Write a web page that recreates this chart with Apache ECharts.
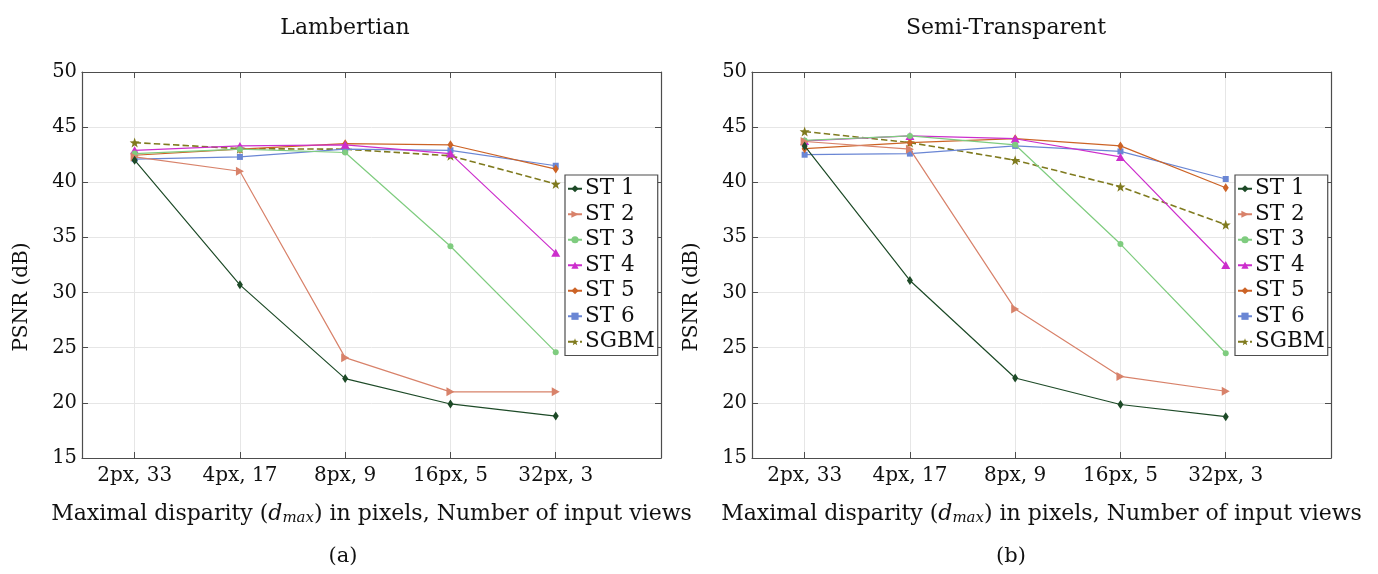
<!DOCTYPE html>
<html>
<head>
<meta charset="utf-8">
<script src="https://cdn.jsdelivr.net/npm/echarts@6/dist/echarts.min.js"></script>
<style>html,body{margin:0;padding:0;background:#fff;}#c{width:1378px;height:574px;}</style>
</head>
<body>
<div id="c"></div>
<script>
const categories = ['2px, 33', '4px, 17', '8px, 9', '16px, 5', '32px, 3'];
const seriesNames = ['ST 1', 'ST 2', 'ST 3', 'ST 4', 'ST 5', 'ST 6', 'SGBM'];
const yTickValues = [15, 20, 25, 30, 35, 40, 45, 50];

// Lambertian (a)
const lambST1  = [42.0, 30.7, 22.2, 19.9, 18.8];
const lambST2  = [42.3, 41.0, 24.1, 21.0, 21.0];
const lambST3  = [42.6, 43.0, 42.7, 34.2, 24.6];
const lambST4  = [42.9, 43.3, 43.4, 42.6, 33.6];
const lambST5  = [42.45, 43.0, 43.5, 43.4, 41.2];
const lambST6  = [42.1, 42.3, 43.0, 42.9, 41.5];
const lambSGBM = [43.6, 43.05, 43.0, 42.4, 39.85];

// Semi-Transparent (b)
const semiST1  = [43.3, 31.1, 22.25, 19.85, 18.75];
const semiST2  = [43.7, 43.0, 28.5, 22.4, 21.05];
const semiST3  = [43.8, 44.2, 43.4, 34.4, 24.5];
const semiST4  = [43.75, 44.2, 43.95, 42.3, 32.5];
const semiST5  = [43.05, 43.6, 43.95, 43.3, 39.5];
const semiST6  = [42.5, 42.6, 43.3, 42.8, 40.3];
const semiSGBM = [44.6, 43.6, 42.0, 39.6, 36.15];

const FONT = 'DejaVu Serif';
const STAR = 'path://M0,-10 L2.35,-3.24 L9.51,-3.09 L3.8,1.24 L5.88,8.09 L0,4 L-5.88,8.09 L-3.8,1.24 L-9.51,-3.09 L-2.35,-3.24 Z';
const styles = [
  {color: '#1d4a27', symbol: 'diamond', size: [6, 9], rotate: 0, type: 'solid'},
  {color: '#d8826a', symbol: 'triangle', size: [9, 8], rotate: -90, type: 'solid'},
  {color: '#7fcc7f', symbol: 'circle', size: 6, rotate: 0, type: 'solid'},
  {color: '#cc2ecc', symbol: 'triangle', size: [9, 8], rotate: 0, type: 'solid'},
  {color: '#cc6326', symbol: 'diamond', size: [6, 9], rotate: 0, type: 'solid'},
  {color: '#6a86d4', symbol: 'rect', size: 6, rotate: 0, type: 'solid'},
  {color: '#7f7a1e', symbol: STAR, size: 10, rotate: 0, type: 'dashed'}
];

const panels = [
  {title: 'Lambertian', titleX: 345, caption: '(a)', captionX: 343, left: 82, data: [lambST1, lambST2, lambST3, lambST4, lambST5, lambST6, lambSGBM]},
  {title: 'Semi-Transparent', titleX: 1006, caption: '(b)', captionX: 1011, left: 752, data: [semiST1, semiST2, semiST3, semiST4, semiST5, semiST6, semiSGBM]}
];
const GW = 579, GT = 72, GH = 386;
const tickIdx = categories.map((c, i) => i);

const grid = [], xAxis = [], yAxis = [], series = [], legend = [], graphic = [];
const frameColor = '#4d4d4d';
const gridColor = '#e6e6e6';

panels.forEach((p, k) => {
  grid.push({left: p.left, top: GT, width: GW, height: GH, show: false});
  const xBase = {
    type: 'value', gridIndex: k, min: -0.5, max: 5,
    axisLine: {show: true, onZero: false, lineStyle: {color: frameColor, width: 1.2}},
    axisTick: {show: true, inside: true, length: 6, customValues: tickIdx, lineStyle: {color: frameColor}},
    splitLine: {show: false}
  };
  xAxis.push(Object.assign({}, xBase, {
    position: 'bottom',
    axisLabel: {show: true, customValues: tickIdx, formatter: v => categories[Math.round(v)] || '', color: '#111', fontFamily: FONT, fontSize: 20, margin: 8},
    splitLine: {show: true, lineStyle: {color: gridColor, width: 1}},
    name: '{n|Maximal disparity (}{i|d}{s|max}{n|) in pixels, Number of input views}',
    nameLocation: 'middle', nameGap: 44,
    nameTextStyle: {
      rich: {
        n: {fontFamily: FONT, fontSize: 22, color: '#111'},
        i: {fontFamily: FONT, fontSize: 22, fontStyle: 'italic', color: '#111'},
        s: {fontFamily: FONT, fontSize: 15, fontStyle: 'italic', color: '#111', padding: [9, 0, 0, 0]}
      }
    }
  }));
  xAxis.push(Object.assign({}, xBase, {position: 'top', axisLabel: {show: false}}));
  const yBase = {
    type: 'value', gridIndex: k, min: 15, max: 50, interval: 5,
    axisLine: {show: true, onZero: false, lineStyle: {color: frameColor, width: 1.2}},
    axisTick: {show: true, inside: true, length: 6, lineStyle: {color: frameColor}},
    splitLine: {show: false}
  };
  yAxis.push(Object.assign({}, yBase, {
    position: 'left',
    axisLabel: {show: true, color: '#111', fontFamily: FONT, fontSize: 19.5, margin: 5},
    splitLine: {show: true, lineStyle: {color: gridColor, width: 1}}
  }));
  yAxis.push(Object.assign({}, yBase, {position: 'right', axisLabel: {show: false}}));

  seriesNames.forEach((name, j) => {
    const st = styles[j];
    series.push({
      name: name, type: 'line', xAxisIndex: 2 * k, yAxisIndex: 2 * k,
      data: p.data[j].map((v, i) => [i, v]),
      symbol: st.symbol, symbolSize: st.size, symbolRotate: st.rotate,
      showAllSymbol: true,
      lineStyle: {color: st.color, width: j === 6 ? 1.6 : 1.2, type: st.type},
      itemStyle: {color: st.color},
      z: 10 - j,
      animation: false
    });
  });

  legend.push({
    data: seriesNames, orient: 'vertical',
    left: p.left + 483, top: 175,
    itemWidth: 14, itemHeight: 9, itemGap: 0,
    padding: [1, 3, 1, 2],
    borderColor: frameColor, borderWidth: 1.2, backgroundColor: '#fff', borderRadius: 0,
    textStyle: {fontFamily: FONT, fontSize: 21.5, color: '#111', lineHeight: 25.5, padding: [0, 0, 0, -2]},
    selectedMode: false, z: 20
  });

  graphic.push({
    type: 'text', x: p.titleX, y: 28,
    style: {text: p.title, fontFamily: FONT, fontSize: 22, fill: '#111', textAlign: 'center', textVerticalAlign: 'middle'}
  });
  graphic.push({
    type: 'text', x: p.left - 60, y: 297, rotation: Math.PI / 2,
    style: {text: 'PSNR (dB)', fontFamily: FONT, fontSize: 20, fill: '#111', textAlign: 'center', textVerticalAlign: 'middle'}
  });
  graphic.push({
    type: 'text', x: p.captionX, y: 557,
    style: {text: p.caption, fontFamily: FONT, fontSize: 21, fill: '#111', textAlign: 'center', textVerticalAlign: 'middle'}
  });
});

const chart = echarts.init(document.getElementById('c'), null, {renderer: 'canvas'});
chart.setOption({
  animation: false,
  backgroundColor: '#fff',
  grid: grid, xAxis: xAxis, yAxis: yAxis, legend: legend, series: series, graphic: graphic
});
</script>
</body>
</html>
